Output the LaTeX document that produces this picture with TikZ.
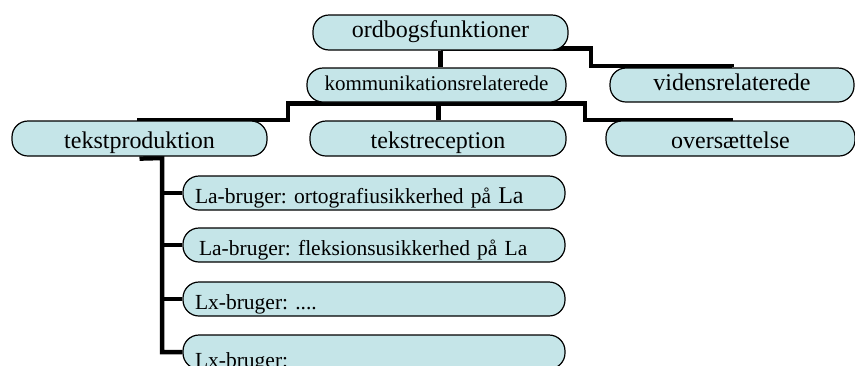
\documentclass[tikz,border=0pt]{standalone}
\usepackage{fontspec}
\setmainfont{Liberation Serif}
\usetikzlibrary{backgrounds}
\definecolor{boxfill}{RGB}{197,229,232}
\frenchspacing

\begin{document}
\begin{tikzpicture}[x=1pt, y=-1pt,
    box/.style={draw=black, line width=1.2pt, fill=boxfill, rounded corners=16pt,
        minimum height=35pt, inner sep=0pt, font=\fontsize{24}{28}\selectfont,
        text height=16pt, text depth=6pt},
    lowbox/.style={box, text height=20pt, text depth=0pt},
    itembox/.style={lowbox, minimum height=34pt, inner xsep=12pt, text width=358pt,
        align=left, font=\fontsize{21.5}{26}\selectfont, text height=21pt},
    conn/.style={line width=4.5pt}]

    % Fix the page to the size of the reference
    \useasboundingbox (0,0) rectangle (855,365);

    % Top level and middle level
    \node[box, minimum width=255pt] (root) at (440.5,32.5) {ordbogsfunktioner};
    \node[box, minimum width=259pt, minimum height=34pt, font=\fontsize{21}{25}\selectfont] (komm) at (436.5,85) {kommunikationsrelaterede};
    \node[box, minimum width=244pt, minimum height=34pt] (viden) at (732,85) {vidensrelaterede};

    % Communicative functions
    \node[lowbox, minimum width=255pt] (tprod) at (139.5,138.5) {tekstproduktion};
    \node[lowbox, minimum width=256pt] (trec) at (438,138.5) {tekstreception};
    \node[lowbox, minimum width=249pt] (overs) at (730.5,138.5) {oversættelse};

    % Users under text production
    \node[itembox] (user1) at (374,193) {La-bruger: ortografiusikkerhed på {\fontsize{24}{28}\selectfont La}};
    \node[itembox] (user2) at (374,245) {\hspace*{4pt}La-bruger: fleksionsusikkerhed på La};
    \node[itembox] (user3) at (374,299) {Lx-bruger: ....};
    \node[itembox, text height=30pt] (user4) at (374,352) {Lx-bruger:};

    % Elbow points of the connectors
    \coordinate (rv) at (591,66);
    \coordinate (kp) at (288,120);
    \coordinate (ko) at (585,120);
    \coordinate (spine) at (162,158);

    % Connectors behind the boxes
    \begin{scope}[on background layer]
        \draw[conn] (root.south) -- (root.south |- komm.north);
        \draw[conn] ([yshift=2pt]root.south) -| (rv) -| (viden.north);
        \draw[conn] ([yshift=-1pt]komm.south) -| (kp) -| (tprod.north);
        \draw[conn] ([xshift=2pt]komm.south) -- ([xshift=2pt]komm.south |- trec.north);
        \draw[conn] ([yshift=-1pt]komm.south) -| (ko) -| (overs.north);
        \draw[conn] ([yshift=-2pt]tprod.south) -- (spine) |- (user4.west);
        \foreach \n in {1,2,3} {
            \draw[conn] (spine |- user\n.west) -- (user\n.west);
        }
    \end{scope}
\end{tikzpicture}
\end{document}
